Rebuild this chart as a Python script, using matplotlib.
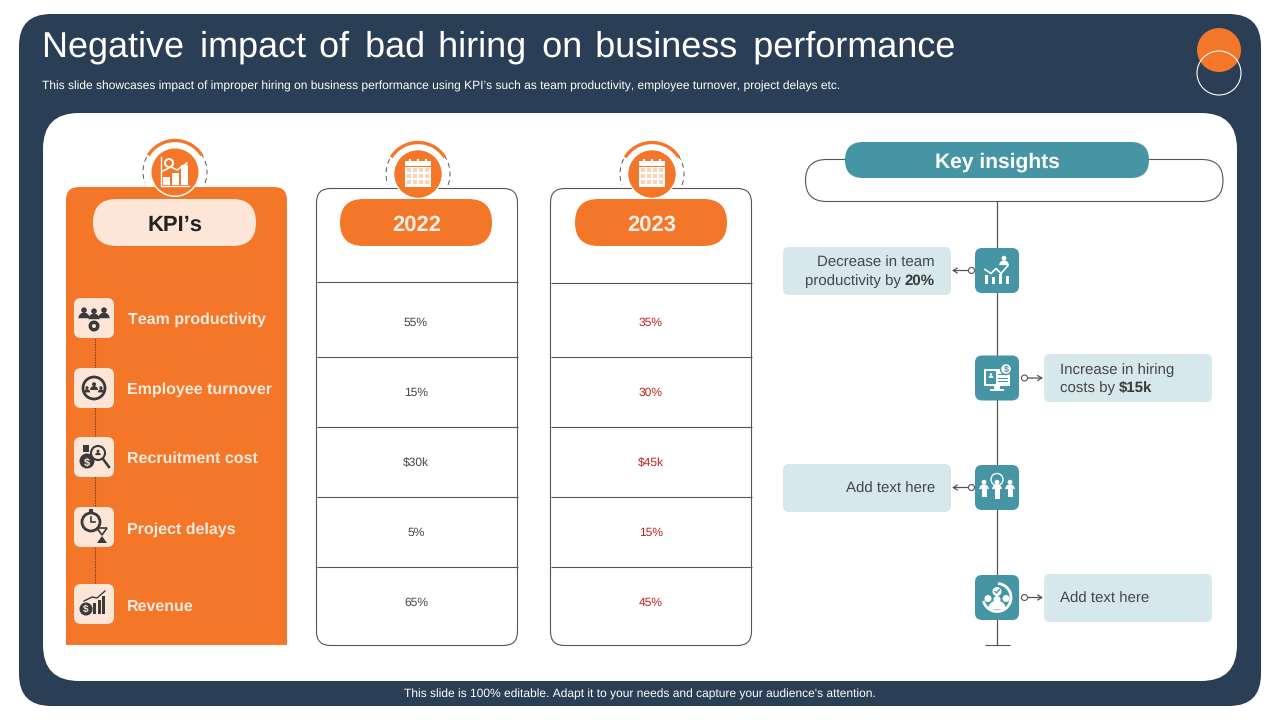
import numpy as np
import matplotlib
matplotlib.use("Agg")
import matplotlib.pyplot as plt
from matplotlib.patches import FancyBboxPatch, Circle, Rectangle, Polygon, Wedge

plt.rcParams['font.family'] = ['Liberation Sans', 'DejaVu Sans']
plt.rcParams['text.hinting'] = 'no_hinting'
plt.rcParams['text.hinting_factor'] = 1
plt.rcParams['text.kerning_factor'] = 6

kpis = ["Team productivity", "Employee turnover", "Recruitment cost", "Project delays", "Revenue"]
years = ["2022", "2023"]
values_2022 = ["55%", "15%", "$30k", "5%", "65%"]
values_2023 = ["35%", "30%", "$45k", "15%", "45%"]
insight_plain = ["Decrease in team\nproductivity by ", "Increase in hiring\ncosts by ", "Add text here", "Add text here"]
insight_bold = ["20%", "$15k", "", ""]

NAVY = "#2A3F55"
ORANGE = "#F47629"
CREAM = "#FDE6D8"
TEAL = "#4595A5"
PALE = "#D6E8EB"
LINE = "#555555"
DARK = "#3A3A3A"
TEXT = "#464646"

fig = plt.figure(figsize=(12.8, 7.2), dpi=100)
ax = fig.add_axes([0, 0, 1, 1])
ax.set_xlim(0, 1280)
ax.set_ylim(720, 0)
ax.axis("off")


def label(x, y, s, fs, **kw):
    # va=center sits a bit high because of the descender room
    kw.setdefault("va", "center")
    return ax.text(x, y + fs * 0.11, s, fontsize=fs, **kw)


def box(x0, y0, x1, y1, r, fc, ec="none", lw=1.0, z=1):
    p = FancyBboxPatch((x0 + r, y0 + r), x1 - x0 - 2 * r, y1 - y0 - 2 * r,
                       boxstyle="round,pad=%f,rounding_size=%f" % (r, r),
                       fc=fc, ec=ec, lw=lw, zorder=z)
    ax.add_patch(p)


def rect(x, y, w, h, c, z=6):
    ax.add_patch(Rectangle((x, y), w, h, fc=c, ec="none", zorder=z))


def circ(x, y, r, fc="none", ec="none", lw=1.0, z=6):
    ax.add_patch(Circle((x, y), r, fc=fc, ec=ec, lw=lw, zorder=z))


def arc(cx, cy, r, a0, a1, **kw):
    t = np.radians(np.linspace(a0, a1, 80))
    ax.plot(cx + r * np.cos(t), cy - r * np.sin(t), **kw)


def hline(x0, x1, y, z=4):
    ax.plot([x0, x1], [y, y], color=LINE, lw=0.8, zorder=z, solid_capstyle="butt")


def person(x, y, s, c, z=6):
    circ(x, y - s * 0.55, s * 0.4, fc=c, z=z)
    ax.add_patch(Wedge((x, y + s * 0.6), s * 0.8, 180, 360, fc=c, ec="none", zorder=z))


def emblem(cx, cy, kind):
    # dashed ring, orange arc on top, then the disc
    arc(cx, cy, 32, -20, 200, color=LINE, lw=0.7, ls=(0, (5, 4)), zorder=2)
    arc(cx, cy, 31.5, 35, 145, color=ORANGE, lw=2.4, zorder=3)
    circ(cx, cy, 25, fc="white", z=5)
    circ(cx, cy, 23.5, fc=ORANGE, z=5)
    if kind == "chart":
        for dx, h in zip([-12, -3, 6], [8, 12, 20]):
            rect(cx + dx, cy + 13 - h, 7, h, "white")
        ax.plot([cx - 14, cx - 14, cx + 14], [cy - 15, cy + 14, cy + 14], color="white", lw=1, zorder=6)
        ax.plot([cx - 12, cx - 4, cx + 2, cx + 12], [cy - 1, cy - 5, cy - 2, cy - 9], color="white", lw=1.1, zorder=6)
        circ(cx - 6, cy - 9, 5, fc="white")
        circ(cx - 6, cy - 9, 3, fc=ORANGE, z=7)
    else:
        rect(cx - 13, cy - 13, 26, 26, "white")
        rect(cx - 13, cy - 8, 26, 0.8, ORANGE, z=7)
        for dx in [-8, 0, 8]:
            rect(cx + dx - 1, cy - 15, 2, 5, "white")
        for i in range(4):
            for j in range(3):
                rect(cx - 11 + i * 6, cy - 6 + j * 6, 4, 4, "#FBD3B8", z=7)


# background
box(19, 14, 1261, 706, 32, NAVY, z=0)
box(43, 113, 1237, 681, 36, "white", z=1)
circ(1219, 50, 22, fc=ORANGE, z=2)
circ(1219, 73, 22, ec="white", lw=0.8, z=3)

label(42, 44.5, "Negative \u200a\u200aimpact \u200aof \u200a\u200abad \u200ahiring \u200a\u200aon \u200abusiness \u200a\u200aperformance",
      26.1, color="white", ha="left")
label(42, 85, "This slide showcases impact of improper hiring on business performance using KPI\u2019s such as team productivity, employee turnover, project delays etc.",
      8.7, color="white", ha="left")
label(640, 693, "This slide is 100% editable. Adapt it to your needs and capture your audience's attention.",
      8.65, color="white", ha="center")

# KPI column
box(66, 187, 287, 400, 13, ORANGE, z=2)
rect(66, 300, 221, 345, ORANGE, z=2)
emblem(175, 172, "chart")
box(93, 199, 256, 246, 23.5, CREAM, z=3)
label(175, 223, "KPI\u2019s", 15.5, color="#222222", fontweight="bold", ha="center", zorder=4)

kpi_rows = [318, 388, 457, 527, 604]
kpi_text_y = [318, 388, 457, 528, 605]
kpi_text_x = [128, 127, 127, 127, 127]
ax.plot([94.5, 94.5], [318, 604], color="#7A4A2A", lw=0.8, ls=(0, (1.5, 0.8)), zorder=3)
for name, y, ty, tx in zip(kpis, kpi_rows, kpi_text_y, kpi_text_x):
    box(74, y - 20, 114, y + 20, 7, CREAM, z=4)
    label(tx, ty, name, 11.5, color="#FDEBDD", fontweight="bold", ha="left", zorder=4)

# small dark glyphs in the KPI tiles
y = kpi_rows[0]
person(84, y - 4, 7, DARK)
person(104, y - 4, 7, DARK)
person(94, y - 3, 7, DARK)
circ(94, y + 8, 5.5, fc=DARK)
circ(94, y + 8, 2, fc=CREAM, z=7)
y = kpi_rows[1]
circ(94, y, 11, ec=DARK, lw=2)
person(94, y - 1, 5, DARK)
person(87, y + 2, 4, DARK)
person(101, y + 2, 4, DARK)
y = kpi_rows[2]
circ(98, y - 4, 7, fc=CREAM, ec=DARK, lw=1.5)
person(98, y - 4, 3.5, DARK, z=7)
ax.plot([103, 109], [y + 2, y + 10], color=DARK, lw=1.8, zorder=6)
circ(87, y + 4, 7.5, fc=DARK)
label(87, y + 4, "$", 8, color=CREAM, fontweight="bold", ha="center", zorder=7)
rect(83, y - 12, 6, 7, DARK)
y = kpi_rows[3]
circ(91, y - 5, 9, fc=CREAM, ec=DARK, lw=2)
ax.plot([91, 91, 95], [y - 10, y - 5, y - 5], color=DARK, lw=1.2, zorder=7)
rect(89, y - 18, 4, 2.5, DARK)
ax.add_patch(Polygon([[97, y + 1], [107, y + 1], [102, y + 8]], fc="none", ec=DARK, lw=1.2, zorder=6))
ax.add_patch(Polygon([[102, y + 9], [97, y + 16], [107, y + 16]], fc=DARK, ec="none", zorder=6))
y = kpi_rows[4]
circ(86, y + 5, 6.5, fc=DARK)
label(86, y + 5, "$", 7.5, color=CREAM, fontweight="bold", ha="center", zorder=7)
for dx, h in zip([93, 97.5, 102], [11, 14, 18]):
    rect(dx, y + 10 - h, 3.2, h, DARK)
ax.plot([84, 92, 97, 105], [y - 3, y - 7, y - 6, y - 13], color=DARK, lw=1, zorder=6)

# year columns
col_left = [316.5, 550.5]
col_pill = [340, 575]
col_emblem = [418, 652]
col_text = [416, 651]
col_lines = [[282, 357, 427, 497, 567], [283, 357, 427, 497, 567]]
row_text = [322, 392, 462, 532, 602]
col_values = [values_2022, values_2023]
col_colors = [TEXT, "#C81E1E"]
for i in range(2):
    x0 = col_left[i]
    emblem(col_emblem[i], 174, "calendar")
    box(x0, 188.5, x0 + 201, 645.5, 14, "white", ec=LINE, lw=0.8, z=4)
    circ(col_emblem[i], 174, 23.5, fc=ORANGE, z=5)
    box(col_pill[i], 199, col_pill[i] + 152, 246, 23.5, ORANGE, z=5)
    label(col_pill[i] + 77, 223, years[i], 15.5, color="#FDEFE5", fontweight="bold", ha="center", zorder=6)
    for ly in col_lines[i]:
        hline(x0, x0 + 201, ly)
    for val, ty in zip(col_values[i], row_text):
        label(col_text[i], ty, val, 8.8, color=col_colors[i], ha="center", zorder=6)

# key insights
ax.plot([997, 997], [202, 645], color=LINE, lw=0.9, zorder=2)
hline(985, 1010, 645, z=2)
box(805.5, 159.5, 1223, 201.5, 21, "white", ec=LINE, lw=0.8, z=2)
box(845, 142, 1149, 178, 18, TEAL, z=3)
label(997, 161, "Key insights", 15, color="white", fontweight="bold", ha="center", zorder=4)

tile_y = [270.5, 378, 487.5, 597.5]
side = [-1, 1, -1, 1]
box_tops = [247, 354, 464, 574]
renderer = fig.canvas.get_renderer()
for plain, bold, cy, s, top in zip(insight_plain, insight_bold, tile_y, side, box_tops):
    box(975, cy - 22.5, 1019, cy + 22.5, 7, TEAL, z=3)
    if s < 0:
        box(783, top, 951, top + 48, 6, PALE, z=2)
        circ(971.5, cy, 3, fc="white", ec=LINE, lw=0.8, z=4)
        ax.annotate("", xy=(952, cy), xytext=(968.5, cy), zorder=4,
                    arrowprops=dict(arrowstyle="->,head_length=0.3,head_width=0.18", color=LINE, lw=0.9, shrinkA=0, shrinkB=0))
    else:
        box(1044, top, 1212, top + 48, 6, PALE, z=2)
        circ(1024.5, cy, 3, fc="white", ec=LINE, lw=0.8, z=4)
        ax.annotate("", xy=(1043, cy), xytext=(1027.5, cy), zorder=4,
                    arrowprops=dict(arrowstyle="->,head_length=0.3,head_width=0.18", color=LINE, lw=0.9, shrinkA=0, shrinkB=0))
    lines = plain.split("\n")
    fs = 10.5
    if len(lines) == 1:
        tx = 935 if s < 0 else 1060
        label(tx, cy, lines[0], fs, color=TEXT, ha="right" if s < 0 else "left", zorder=5)
    else:
        ly = [cy - 9, cy + 9]
        if s < 0:
            label(935, ly[0], lines[0], fs, color=TEXT, ha="right", zorder=5)
            b = label(935, ly[1], bold, fs, color=DARK, fontweight="bold", ha="right", zorder=5)
            bb = b.get_window_extent(renderer)
            label(bb.x0 - 4, ly[1], lines[1].strip(), fs, color=TEXT, ha="right", zorder=5)
        else:
            label(1060, ly[0], lines[0], fs, color=TEXT, ha="left", zorder=5)
            t = label(1060, ly[1], lines[1].strip(), fs, color=TEXT, ha="left", zorder=5)
            bb = t.get_window_extent(renderer)
            label(bb.x1 + 4, ly[1], bold, fs, color=DARK, fontweight="bold", ha="left", zorder=5)

# white glyphs in the teal tiles
cy = tile_y[0]
person(1004, cy - 9, 6, "white", z=6)
for dx, h in zip([-11, -4, 3, 10], [9, 7, 10, 8]):
    rect(997 + dx - 1, cy + 13 - h, 3, h, "white")
ax.plot([985, 991, 996, 1001, 1008], [cy - 1, cy + 3, cy - 2, cy + 3, cy - 5], color="white", lw=1.2, zorder=6)
cy = tile_y[1]
rect(984, cy - 9, 26, 17, "white")
rect(986, cy - 7, 10, 13, TEAL, z=7)
person(991, cy - 2, 3, "white", z=8)
for k in range(3):
    rect(998, cy - 4 + k * 3.5, 10, 1, TEAL, z=7)
rect(994, cy + 8, 6, 3, "white")
rect(990, cy + 11, 14, 1.5, "white")
circ(1006, cy - 9, 5.5, fc="white", ec=TEAL, lw=1, z=8)
label(1006, cy - 9, "$", 6.5, color=TEAL, fontweight="bold", ha="center", zorder=9)
cy = tile_y[2]
person(984, cy - 2, 6, "white")
rect(981.5, cy, 5, 9, "white")
person(1010, cy - 2, 6, "white")
rect(1007.5, cy, 5, 9, "white")
circ(997, cy - 8, 6, ec="white", lw=1)
person(997, cy - 2, 6, "white")
rect(994.5, cy, 5, 11, "white")
cy = tile_y[3]
arc(997, cy, 14, 200, 440, color="white", lw=2, zorder=6)
circ(997, cy - 6, 4.5, fc="white")
ax.plot([995, 996.5, 999.5], [cy - 6, cy - 4.5, cy - 8], color=TEAL, lw=1, zorder=7)
circ(988, cy + 1, 3.5, fc="white")
circ(1006, cy + 1, 3.5, fc="white")
circ(997, cy + 2, 3.5, fc="white")
ax.add_patch(Wedge((997, cy + 12), 9, 180, 360, fc="white", ec="none", zorder=6))

fig.savefig("out.png", dpi=100, facecolor="white")
